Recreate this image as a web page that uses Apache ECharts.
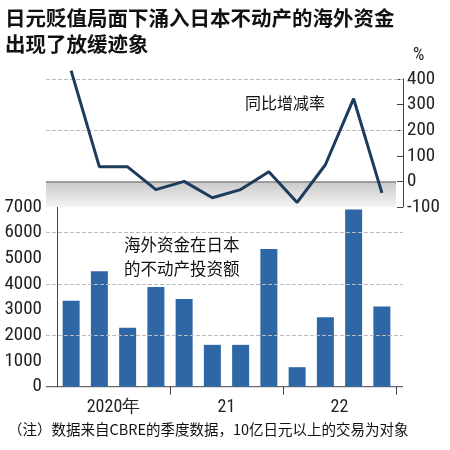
<!DOCTYPE html>
<html><head><meta charset="utf-8">
<script src="https://cdn.jsdelivr.net/npm/echarts@6/dist/echarts.min.js"></script>
<style>body{margin:0}#c{width:450px;height:450px}</style></head>
<body><div id="c"></div>
<script>
const categories = ['2020Q1','2020Q2','2020Q3','2020Q4','2021Q1','2021Q2','2021Q3','2021Q4','2022Q1','2022Q2','2022Q3','2022Q4'];
const investment = [3350, 4500, 2300, 3880, 3420, 1630, 1630, 5360, 760, 2710, 6900, 3120];
const yoyRate = [433, 57, 57, -32, 0, -64, -32, 38, -82, 65, 323, -45];
const yearLabels = {2: '2020年', 6: '21', 10: '22'};
const F = '"Liberation Sans Narrow","Roboto Condensed","Liberation Sans",sans-serif';
const CJK = '"Noto Sans CJK SC",sans-serif';
const chart = echarts.init(document.getElementById('c'));
const L = 57, R = 54;
chart.setOption({
  animation: false,
  backgroundColor: '#fff',
  grid: [
    {left: L, right: R, top: 79, height: 128},
    {left: L, right: R, top: 207, height: 179.7}
  ],
  xAxis: [
    {type: 'category', gridIndex: 0, data: categories, boundaryGap: true, show: false},
    {type: 'category', gridIndex: 1, data: categories, boundaryGap: true,
     axisLine: {show: false}, axisLabel: {show: false},
     axisTick: {show: true, length: 8, interval: (i) => i === 4 || i === 8, lineStyle: {color: '#444'}}},
    {type: 'value', gridIndex: 1, min: 0, max: 12, interval: 2, position: 'bottom',
     axisLine: {show: false}, axisTick: {show: false}, splitLine: {show: false},
     axisLabel: {formatter: v => yearLabels[v] || '', color: '#222', fontSize: 18, fontFamily: F, margin: 12, showMinLabel: false, showMaxLabel: false}}
  ],
  yAxis: [
    {type: 'value', gridIndex: 0, position: 'right', offset: 7, min: -100, max: 400, interval: 100,
     axisLine: {show: true, lineStyle: {color: '#444'}}, axisTick: {show: true, length: 6, inside: true, lineStyle: {color: '#444'}},
     axisLabel: {color: '#222', fontSize: 19, fontFamily: F, margin: 4},
     splitLine: {show: false}},
    {type: 'value', gridIndex: 1, position: 'left', offset: 11, min: 0, max: 7000, interval: 1000,
     axisLine: {show: true, lineStyle: {color: '#444'}}, axisTick: {show: false},
     axisLabel: {color: '#222', fontSize: 19, fontFamily: F, margin: 4, formatter: v => String(v)},
     splitLine: {show: false}}
  ],
  series: [
    {type: 'bar', xAxisIndex: 1, yAxisIndex: 1, data: investment, barWidth: 17,
     itemStyle: {color: '#2f67a6'},
     markLine: {silent: true, symbol: 'none', label: {show: false}, lineStyle: {color: '#bbb', type: 'dashed', width: 1},
       data: [2000, 4000, 6000].map(v => [{yAxis: v, x: 46}, {yAxis: v, x: 403}])}},
    {type: 'line', xAxisIndex: 0, yAxisIndex: 0, data: yoyRate, symbol: 'none', clip: false,
     lineStyle: {color: '#1d3c5c', width: 3}, z: 5,
     markArea: {silent: true, itemStyle: {color: new echarts.graphic.LinearGradient(0,0,0,1,[{offset:0,color:'#c9c9c9'},{offset:1,color:'#f4f4f4'}])},
       data: [[{yAxis: 0, x: 46}, {yAxis: -100, x: 396}]]},
     markLine: {silent: true, symbol: 'none', label: {show: false},
       data: [
         [{yAxis: 0, x: 46, lineStyle: {color: '#888', type: 'solid', width: 1.5}}, {yAxis: 0, x: 396}],
         [{yAxis: 200, x: 46, lineStyle: {color: '#bbb', type: 'dashed', width: 1}}, {yAxis: 200, x: 403}],
         [{yAxis: 400, x: 46, lineStyle: {color: '#bbb', type: 'dashed', width: 1}}, {yAxis: 400, x: 403}]
       ]}}
  ],
  graphic: [
    {type: 'line', shape: {x1: 46, y1: 386.7, x2: 403, y2: 386.7}, style: {stroke: '#444', lineWidth: 1}},
    {type: 'text', left: 5, top: 5, style: {text: '日元贬值局面下涌入日本不动产的海外资金\n出现了放缓迹象', font: 'bold 20.5px ' + CJK, fill: '#111', lineHeight: 26}},
    {type: 'text', left: 413, top: 46, style: {text: '%', font: '18px ' + F, fill: '#222'}},
    {type: 'text', left: 245, top: 95, style: {text: '同比增减率', font: '16px ' + CJK, fill: '#111'}},
    {type: 'text', left: 124, top: 233, style: {text: '海外资金在日本\n的不动产投资额', font: '16.5px ' + CJK, fill: '#111', lineHeight: 24}},
    {type: 'text', left: 8, top: 422, style: {text: '（注）数据来自CBRE的季度数据，10亿日元以上的交易为对象', font: '14.5px ' + CJK, fill: '#111'}}
  ]
});
</script></body></html>
